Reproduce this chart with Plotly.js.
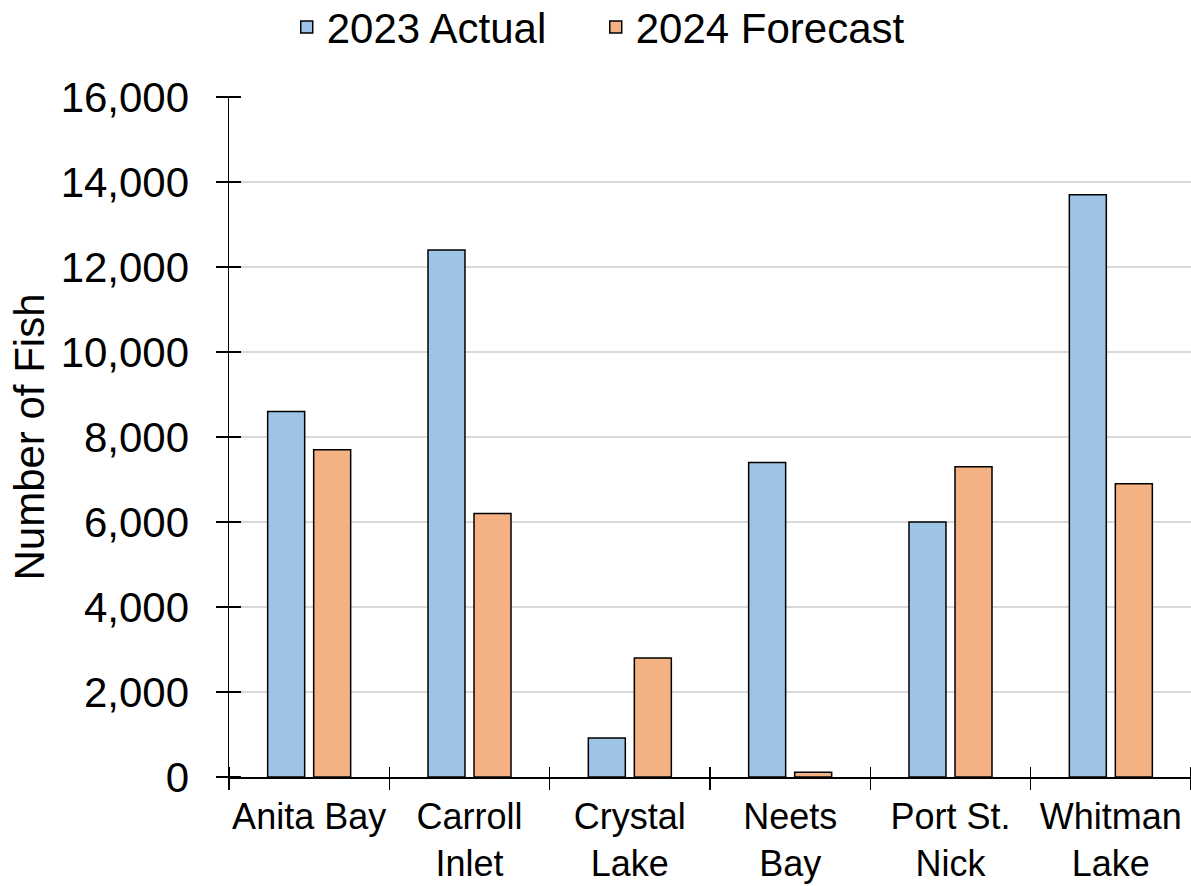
<!DOCTYPE html>
<html><head><meta charset="utf-8">
<script src="https://cdn.plot.ly/plotly-3.0.1.min.js"></script>
<style>html,body{margin:0;padding:0;background:#fff}#chart{width:1191px;height:886px}</style>
</head><body><div id="chart"></div>
<script>
const categories = ["Anita Bay", "Carroll<br>Inlet", "Crystal<br>Lake", "Neets<br>Bay", "Port St.<br>Nick", "Whitman<br>Lake"];
const actual2023 = [8600, 12400, 920, 7400, 6000, 13700];
const forecast2024 = [7700, 6200, 2800, 110, 7300, 6900];
const yTickVals = [0, 2000, 4000, 6000, 8000, 10000, 12000, 14000, 16000];

const font = "Liberation Sans, Arial, sans-serif";
const traces = [
  {type: "bar", name: "2023 Actual", x: categories, y: actual2023,
   marker: {color: "#9dc3e6", line: {color: "#000", width: 1.5}}},
  {type: "bar", name: "2024 Forecast", x: categories, y: forecast2024,
   marker: {color: "#f4b183", line: {color: "#000", width: 1.5}}},
  {type: "scatter", mode: "markers", x: categories, y: actual2023, xaxis: "x2", yaxis: "y2",
   marker: {opacity: 0}, showlegend: false, hoverinfo: "skip"}
];
const layout = {
  width: 1191, height: 886,
  margin: {l: 229, r: 0, t: 97, b: 109, autoexpand: false},
  paper_bgcolor: "#fff", plot_bgcolor: "#fff",
  font: {family: font, color: "#000"},
  barmode: "group", bargap: 0.426, bargroupgap: 0.196,
  showlegend: true,
  legend: {orientation: "h", x: 0.06, xref: "paper", xanchor: "left", y: 1.1025, yanchor: "middle",
           font: {size: 42, family: font}, traceorder: "normal",
           entrywidth: 264, entrywidthmode: "pixels"},
  xaxis: {type: "category", range: [-0.5, 5.5], tickson: "boundaries", ticks: "outside", ticklen: 11,
          tickwidth: 1.5, tickcolor: "#000", showline: true, linecolor: "#000", linewidth: 1.5,
          ticklabelstandoff: 7, tickangle: 0, automargin: false,
          tickfont: {size: 36, family: font}, showgrid: false, fixedrange: true},
  yaxis: {range: [0, 16000], tickvals: yTickVals, tickformat: ",d", ticks: "outside", ticklen: 12,
          tickwidth: 1.5, tickcolor: "#000", showline: true, linecolor: "#000", linewidth: 1.5,
          gridcolor: "#d9d9d9", gridwidth: 1.5, zeroline: false, ticklabelstandoff: 18, automargin: false,
          tickfont: {size: 42, family: font},
          title: {text: "Number of Fish", font: {size: 42, family: font}, standoff: 3}},
  xaxis2: {type: "category", overlaying: "x", range: [-0.5, 5.5], tickson: "boundaries", ticks: "outside",
           ticklen: 22, tickwidth: 1.5, tickcolor: "#000", showticklabels: false, showgrid: false,
           showline: false, side: "bottom", anchor: "free", position: 0.0162},
  yaxis2: {overlaying: "y", range: [0, 16000], tickvals: yTickVals, ticks: "outside", ticklen: 24,
           tickwidth: 1.5, tickcolor: "#000", showticklabels: false, showgrid: false, zeroline: false,
           showline: false, side: "left", anchor: "free", position: 0.01247}
};
Plotly.newPlot("chart", traces, layout, {displayModeBar: false, staticPlot: true});
</script></body></html>
